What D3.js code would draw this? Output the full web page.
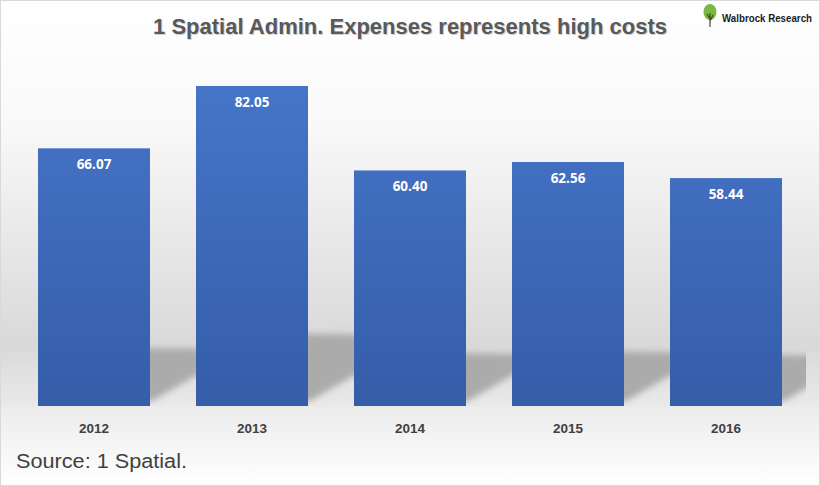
<!DOCTYPE html>
<html><head><meta charset="utf-8">
<script src="https://cdn.jsdelivr.net/npm/d3@7"></script>
<style>html,body{margin:0;padding:0;background:#fff;}svg{display:block;}</style>
</head><body>
<script>
const categories = ["2012","2013","2014","2015","2016"];
const values = [66.07, 82.05, 60.40, 62.56, 58.44];
const valueLabels = ["66.07","82.05","60.40","62.56","58.44"];
const title = "1 Spatial Admin. Expenses represents high costs";
const source = "Source: 1 Spatial.";
const brand = "Walbrock Research";

const W = 820, H = 486;
const base = 406, plotTop = 55, plotLeft = 15, plotRight = 805;
const svg = d3.select("body").append("svg").attr("width", W).attr("height", H);
const defs = svg.append("defs");

const bg = defs.append("linearGradient").attr("id","bg").attr("x1",0).attr("y1",0).attr("x2",0).attr("y2",1);
bg.append("stop").attr("offset","0%").attr("stop-color","#ffffff");
bg.append("stop").attr("offset","83%").attr("stop-color","#e9e9e9");
bg.append("stop").attr("offset","84%").attr("stop-color","#ececec");
bg.append("stop").attr("offset","100%").attr("stop-color","#ffffff");

const pg = defs.append("linearGradient").attr("id","pg").attr("gradientUnits","userSpaceOnUse")
  .attr("x1",0).attr("y1",0).attr("x2",0).attr("y2",base);
pg.append("stop").attr("offset","0%").attr("stop-color","#ffffff");
pg.append("stop").attr("offset","30%").attr("stop-color","#f9f9f9");
pg.append("stop").attr("offset","85%").attr("stop-color","#d9d9d9");
pg.append("stop").attr("offset","100%").attr("stop-color","#e9e9e9");

const barG = defs.append("linearGradient").attr("id","barg").attr("gradientUnits","userSpaceOnUse")
  .attr("x1",0).attr("y1",80).attr("x2",0).attr("y2",base);
barG.append("stop").attr("offset","0%").attr("stop-color","#4675c9");
barG.append("stop").attr("offset","100%").attr("stop-color","#355da8");

defs.append("filter").attr("id","blur").attr("x","-20%").attr("y","-20%").attr("width","140%").attr("height","140%")
  .append("feGaussianBlur").attr("stdDeviation",3);
defs.append("clipPath").attr("id","plotclip").append("rect")
  .attr("x",0).attr("y",0).attr("width",plotRight+1).attr("height",base);

svg.append("rect").attr("x",0.5).attr("y",0.5).attr("width",W-1).attr("height",H-1)
  .attr("fill","url(#bg)").attr("stroke","#d9d9d9");
svg.append("rect").attr("x",1).attr("y",1).attr("width",W-2).attr("height",base-1).attr("fill","url(#pg)");

const x = d3.scaleBand().domain(categories).range([plotLeft, plotRight])
  .paddingInner(46/158).paddingOuter(23/158);
const y = d3.scaleLinear().domain([0, 90]).range([base, plotTop]);

// shadows
const sh = svg.append("g").attr("clip-path","url(#plotclip)");
categories.forEach((c,i)=>{
  const x0 = x(c), x1 = x(c)+x.bandwidth();
  const h = base - y(values[i]);
  const topS = base - 0.23*h;
  const pts = [[x0+10, base-6],[x0+10, topS],[x1+52, topS+2],[x1+52, base-34],[x1+2, base-5]];
  sh.append("polygon").attr("points", pts.map(p=>p.join(",")).join(" "))
    .attr("fill","#ababab").attr("filter","url(#blur)");
});

// bars
svg.append("g").selectAll("rect").data(values).join("rect")
  .attr("x",(d,i)=>x(categories[i])).attr("width",x.bandwidth())
  .attr("y",d=>y(d)).attr("height",d=>base-y(d)).attr("fill","url(#barg)");

// value labels
svg.append("g").selectAll("text").data(values).join("text")
  .attr("x",(d,i)=>x(categories[i])+x.bandwidth()/2).attr("y",d=>y(d)+21)
  .attr("text-anchor","middle").attr("fill","#ffffff")
  .attr("font-family","'Open Sans','Liberation Sans',Arial,sans-serif").attr("font-weight","bold").attr("font-size",13.5)
  .text((d,i)=>valueLabels[i]);

// x axis
const xa = svg.append("g").attr("transform",`translate(0,${base})`).call(d3.axisBottom(x).tickSize(0).tickPadding(0));
xa.select(".domain").remove();
xa.selectAll("text").attr("dy",null).attr("y",27)
  .attr("font-family","'Liberation Sans',Arial,sans-serif")
  .attr("font-weight","bold").attr("font-size",13).attr("fill","#404040")
  .attr("textLength",30).attr("lengthAdjust","spacingAndGlyphs");

// title
const tfont = "'Liberation Sans',Arial,sans-serif";
svg.append("text").attr("x",410).attr("y",34).attr("text-anchor","middle")
  .attr("font-family",tfont).attr("font-weight","bold").attr("font-size",22)
  .attr("fill","#d0d0d0").attr("transform","translate(1,1)").text(title);
svg.append("text").attr("x",410).attr("y",34).attr("text-anchor","middle")
  .attr("font-family",tfont).attr("font-weight","bold").attr("font-size",22)
  .attr("fill","#595959").text(title);

// logo
const logo = svg.append("g").attr("transform","translate(710,0)");
logo.append("ellipse").attr("cx",0).attr("cy",12).attr("rx",6.5).attr("ry",8).attr("fill","#7bb843");
logo.append("path").attr("d","M0,27 L0,13 M0,19 L-3,14 M0,21 L3,15").attr("stroke","#3d4a20").attr("stroke-width",1.2).attr("fill","none");
svg.append("text").attr("x",722).attr("y",22)
  .attr("font-family","'Liberation Sans',Arial,sans-serif").attr("font-weight","bold").attr("font-size",10.5)
  .attr("textLength",90).attr("lengthAdjust","spacingAndGlyphs")
  .attr("fill","#1a1a1a").text(brand);

// source
svg.append("text").attr("x",16).attr("y",468)
  .attr("font-family","'Liberation Sans',sans-serif").attr("font-size",20).attr("font-weight",500)
  .attr("textLength",171).attr("lengthAdjust","spacingAndGlyphs")
  .attr("fill","#404040").text(source);
</script>
</body></html>
